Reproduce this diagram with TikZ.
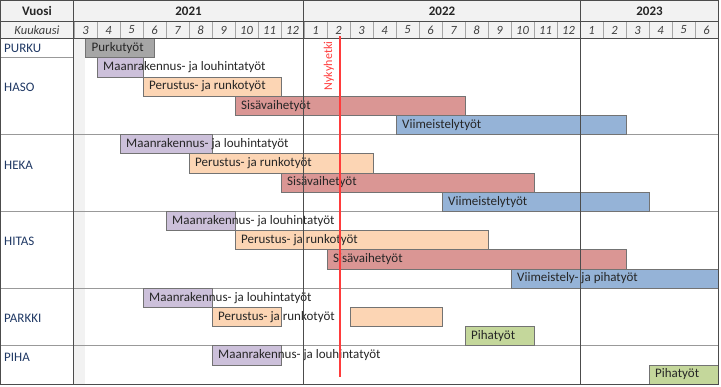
\documentclass[tikz,border=0pt]{standalone}
\usepackage{fontspec}
\setmainfont{Carlito}
\usetikzlibrary{positioning}
\definecolor{HeadFill}{HTML}{F2F2F2}
\definecolor{PurkuGray}{HTML}{A6A6A6}
\definecolor{EarthLilac}{HTML}{CCC0DA}
\definecolor{FrameApricot}{HTML}{FCD5B4}
\definecolor{InteriorRose}{HTML}{DA9694}
\definecolor{FinishBlue}{HTML}{95B3D7}
\definecolor{YardGreen}{HTML}{C4D79B}
\definecolor{NowRed}{HTML}{FF3B3B}
\definecolor{LabelNavy}{HTML}{1F3864}
\definecolor{BarInk}{HTML}{262626}

% bar: style, name, first month, last month, row, text
\newcommand{\ganttbar}[6]{%
  \draw[#1] ({74+23*#3},{38.5+19.2*#5}) rectangle ({74+23*#4},{38.5+19.2*(#5+1)});
  \node[bartext] (#2) at ({74+23*#3},{38.5+19.2*(#5+.5)}) {#6};}

\begin{document}
\begin{tikzpicture}[x=1pt,y=-1pt,
 font=\fontsize{13}{15}\selectfont,
 gridline/.style={draw=black!40,line width=.6pt},
 darkline/.style={draw=black!70,line width=.8pt},
 monthline/.style={draw=black!35,line width=.5pt},
 bar/.style={draw=black!55,line width=.6pt},
 purkubar/.style={bar,fill=PurkuGray},
 earthbar/.style={bar,fill=EarthLilac},
 framebar/.style={bar,fill=FrameApricot},
 interiorbar/.style={bar,fill=InteriorRose},
 finishbar/.style={bar,fill=FinishBlue},
 yardbar/.style={bar,fill=YardGreen},
 bartext/.style={anchor=west,inner sep=0pt,xshift=6pt,text=BarInk},
 rowlabel/.style={anchor=west,inner sep=0pt,text=LabelNavy},
 yearlabel/.style={font=\fontsize{13}{15}\selectfont\bfseries,text=BarInk},
 monthlabel/.style={font=\fontsize{12.5}{15}\selectfont\itshape,text=black!75}
]
 \useasboundingbox (0,0) rectangle (721,386);
 % header
 \fill[HeadFill] (0,0) rectangle (718,38.5);
 \fill[HeadFill] (74,38.5) rectangle (85,384);
 \node[yearlabel] (vuosi) at (37,11) {Vuosi};
 \node[monthlabel] (kuukausi) at (37,30) {Kuukausi};
 \node[yearlabel] (y2021) at (188.5,11) {2021};
 \node[yearlabel] (y2022) at (442,11) {2022};
 \node[yearlabel] (y2023) at (649.5,11) {2023};
 \foreach \m [count=\i from 0] in {3,4,5,6,7,8,9,10,11,12,1,2,3,4,5,6,7,8,9,10,11,12,1,2,3,4,5,6}{
   \node[monthlabel] (m\i) at ({74+23*\i+11.5},30) {\m};
   \draw[monthline] ({74+23*\i},21) -- ({74+23*\i},38.5);
 }
 % group rows
 \node[rowlabel] (purku) at (4,48) {PURKU};
 \node[rowlabel] (haso) at (4,87) {HASO};
 \node[rowlabel] (heka) at (4,165) {HEKA};
 \node[rowlabel] (hitas) at (4,241) {HITAS};
 \node[rowlabel] (parkki) at (4,318) {PARKKI};
 \node[rowlabel] (piha) at (4,357) {PIHA};
 \draw[gridline] (0,57.7) -- (73,57.7);
 \foreach \r in {4,8,12,15}
   \draw[gridline] (0,{38.5+19.2*(\r+1)}) -- (718,{38.5+19.2*(\r+1)});
 % bars
 \ganttbar{purkubar}{purku-a}{0.5}{3.5}{0}{Purkutyöt}
 \ganttbar{earthbar}{haso-a}{1}{3}{1}{Maanrakennus- ja louhintatyöt}
 \ganttbar{framebar}{haso-b}{3}{9}{2}{Perustus- ja runkotyöt}
 \ganttbar{interiorbar}{haso-c}{7}{17}{3}{Sisävaihetyöt}
 \ganttbar{finishbar}{haso-d}{14}{24}{4}{Viimeistelytyöt}
 \ganttbar{earthbar}{heka-a}{2}{6}{5}{Maanrakennus- ja louhintatyöt}
 \ganttbar{framebar}{heka-b}{5}{13}{6}{Perustus- ja runkotyöt}
 \ganttbar{interiorbar}{heka-c}{9}{20}{7}{Sisävaihetyöt}
 \ganttbar{finishbar}{heka-d}{16}{25}{8}{Viimeistelytyöt}
 \ganttbar{earthbar}{hitas-a}{4}{7}{9}{Maanrakennus- ja louhintatyöt}
 \ganttbar{framebar}{hitas-b}{7}{18}{10}{Perustus- ja runkotyöt}
 \ganttbar{interiorbar}{hitas-c}{11}{24}{11}{Sisävaihetyöt}
 \ganttbar{finishbar}{hitas-d}{19}{28}{12}{Viimeistely- ja pihatyöt}
 \ganttbar{earthbar}{parkki-a}{3}{6}{13}{Maanrakennus- ja louhintatyöt}
 \ganttbar{framebar}{parkki-b}{6}{9}{14}{Perustus- ja runkotyöt}
 \ganttbar{framebar}{parkki-c}{12}{16}{14}{}
 \ganttbar{yardbar}{parkki-d}{17}{20}{15}{Pihatyöt}
 \ganttbar{earthbar}{piha-a}{6}{9}{16}{Maanrakennus- ja louhintatyöt}
 \ganttbar{yardbar}{piha-b}{25}{28}{17}{Pihatyöt}
 % frame
 \draw[darkline] (0,21) -- (718,21);
 \draw[darkline] (0,38.5) -- (718,38.5);
 \foreach \x in {73,303,580.7}
   \draw[darkline] (\x,0) -- (\x,384);
 \draw[darkline] (0.5,0.5) rectangle (718,384);
 % now line
 \coordinate (nowtop) at (340,36);
 \coordinate (nowbot) at (340,377);
 \draw[NowRed,line width=2.6pt] (nowtop) -- (nowbot);
 \node[rotate=90,text=NowRed,inner sep=0pt,font=\fontsize{12}{14}\selectfont] (nyky) at (329,66) {Nykyhetki};
\end{tikzpicture}
\end{document}
